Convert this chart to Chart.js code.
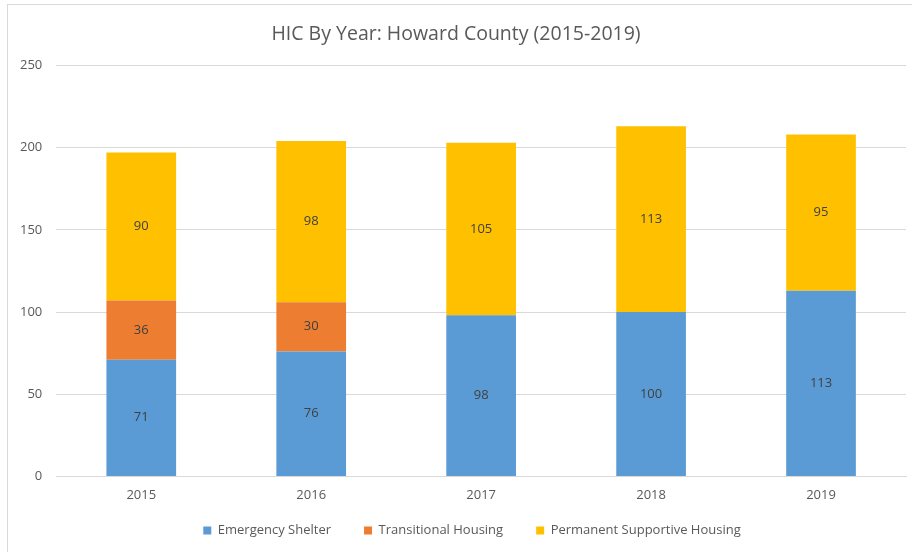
<!DOCTYPE html>
<html>
<head>
<meta charset="utf-8">
<script src="https://cdn.jsdelivr.net/npm/chart.js@4/dist/chart.umd.min.js"></script>
<style>
  body { margin: 0; background: #fff; overflow: hidden; }
  #frame { position: absolute; left: 7px; top: 4px; width: 1000px; height: 1000px;
           border-left: 1px solid #d9d9d9; border-top: 1px solid #d9d9d9; }
  #wrap { position: absolute; left: 0; top: 0; width: 912px; height: 552px; }
</style>
</head>
<body>
<div id="frame"></div>
<div id="wrap"><canvas id="chart" width="912" height="552"></canvas></div>
<script>
const years = ["2015", "2016", "2017", "2018", "2019"];
const emergencyShelter = [71, 76, 98, 100, 113];
const transitionalHousing = [36, 30, null, null, null];
const permanentSupportive = [90, 98, 105, 113, 95];

const TEXT_COLOR = "#595959";
const GRID_COLOR = "#d9d9d9";
const FONT = "'Open Sans', sans-serif";

// draws the value in the middle of each bar segment
const barLabels = {
  id: "barLabels",
  afterLayout(chart) {
    // legend padding is wide for the item gaps; pull the box up and recentre it
    const lg = chart.legend;
    if (lg) {
      lg.left += 16;
      lg.right += 16;
      lg.top -= 23;
      lg.bottom -= 23;
    }
  },
  afterDatasetsDraw(chart) {
    const ctx = chart.ctx;
    ctx.save();
    ctx.fillStyle = "#404040";
    ctx.font = "13px " + FONT;
    ctx.textAlign = "center";
    ctx.textBaseline = "middle";
    chart.data.datasets.forEach((ds, i) => {
      const meta = chart.getDatasetMeta(i);
      if (meta.hidden) return;
      meta.data.forEach((bar, j) => {
        const v = ds.data[j];
        if (v == null) return;
        const p = bar.getProps(["x", "y", "base"], true);
        ctx.fillText(String(v), p.x, (p.y + p.base) / 2);
      });
    });
    ctx.restore();
  },
};

new Chart(document.getElementById("chart"), {
  type: "bar",
  data: {
    labels: years,
    datasets: [
      { label: "Emergency Shelter", data: emergencyShelter, backgroundColor: "#5B9BD5" },
      { label: "Transitional Housing", data: transitionalHousing, backgroundColor: "#ED7D31" },
      { label: "Permanent Supportive Housing", data: permanentSupportive, backgroundColor: "#FFC000" },
    ],
  },
  options: {
    responsive: false,
    animation: false,
    categoryPercentage: 1,
    barPercentage: 0.41,
    layout: { padding: { left: 6, right: 6, top: 18, bottom: -18 } },
    plugins: {
      title: {
        display: true,
        text: "HIC By Year: Howard County (2015-2019)",
        color: TEXT_COLOR,
        font: { family: FONT, size: 19.5, weight: "normal" },
        padding: { top: 5, bottom: 19 },
      },
      legend: {
        display: true,
        position: "bottom",
        labels: {
          color: TEXT_COLOR,
          font: { family: FONT, size: 13 },
          boxWidth: 8,
          boxHeight: 8,
          padding: 33,
        },
      },
      tooltip: { enabled: false },
    },
    scales: {
      x: {
        stacked: true,
        grid: { display: false, drawTicks: false },
        border: { color: GRID_COLOR },
        ticks: { color: TEXT_COLOR, font: { family: FONT, size: 13 }, padding: 11 },
      },
      y: {
        stacked: true,
        min: 0,
        max: 250,
        ticks: { stepSize: 50, color: TEXT_COLOR, font: { family: FONT, size: 13 }, padding: 14 },
        grid: { color: GRID_COLOR, drawTicks: false },
        border: { display: false },
      },
    },
  },
  plugins: [barLabels],
});
</script>
</body>
</html>
